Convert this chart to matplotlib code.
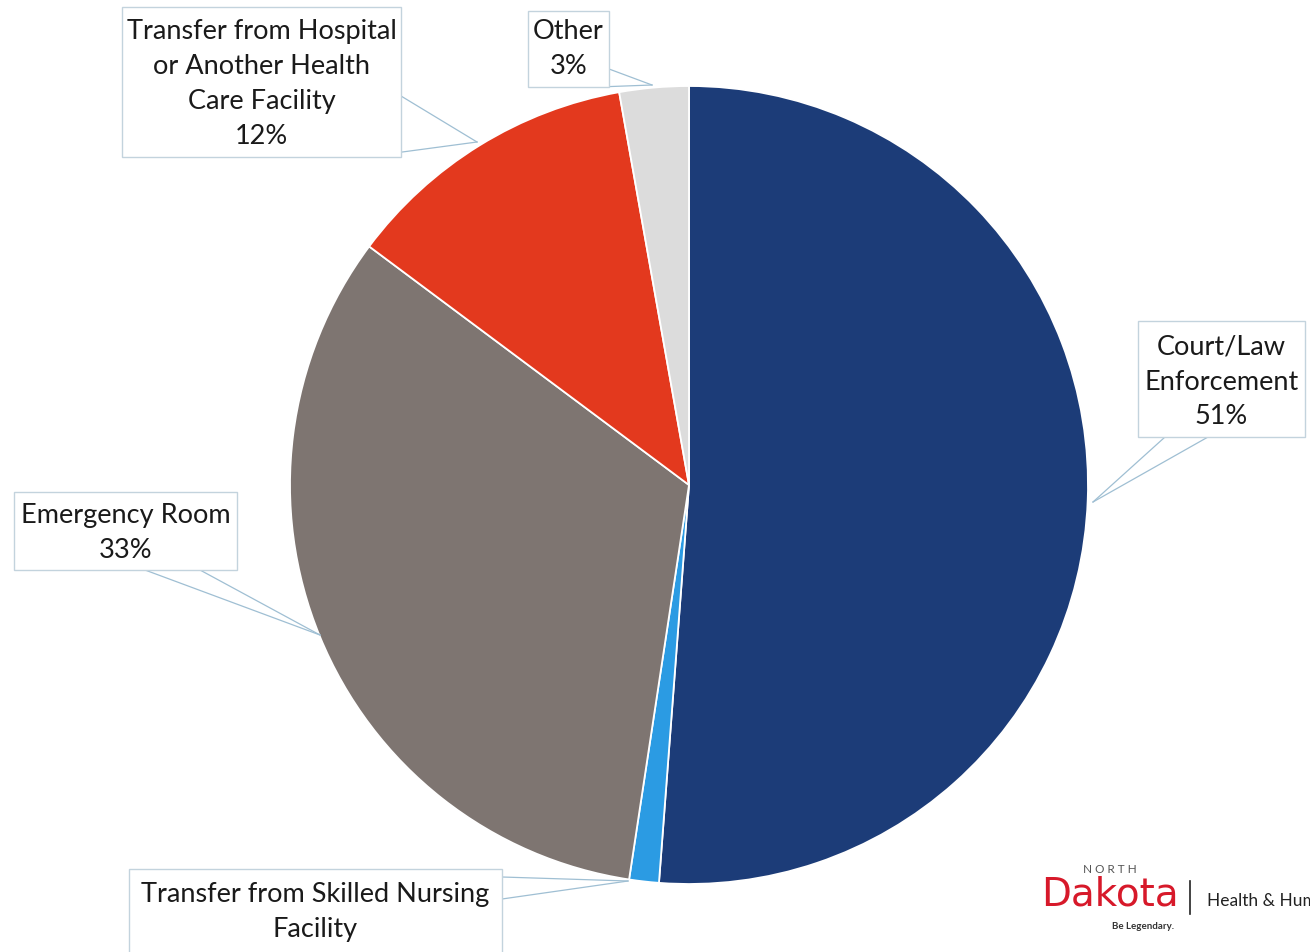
import matplotlib
matplotlib.use("Agg")
import matplotlib.pyplot as plt
from matplotlib.patches import Rectangle

plt.rcParams['font.family'] = ['Lato', 'DejaVu Sans']

# data (clockwise from 12 o'clock)
sources = ["Court/Law Enforcement", "Transfer from Skilled Nursing Facility",
           "Emergency Room", "Transfer from Hospital or Another Health Care Facility",
           "Other"]
shares = [51.2, 1.2, 32.8, 12.0, 2.8]
colors = ["#1c3c78", "#2b9be3", "#7e7571", "#e3391e", "#dcdcdc"]
label_texts = ["Court/Law\nEnforcement\n51%",
               "Transfer from Skilled Nursing\nFacility",
               "Emergency Room\n33%",
               "Transfer from Hospital\nor Another Health\nCare Facility\n12%",
               "Other\n3%"]

W, H = 1310, 953
fig = plt.figure(figsize=(W / 100, H / 100), dpi=100)
ax = fig.add_axes([0, 0, 1, 1])

def Y(y):
    # image pixel rows -> axis y (up)
    return H - y

cx, cy, R = 689, 486, 399
ax.pie(shares, colors=colors, startangle=90, counterclock=False,
       center=(cx, Y(cy)), radius=R, frame=True,
       wedgeprops=dict(edgecolor='white', linewidth=1.3))
ax.set_xlim(0, W)
ax.set_ylim(0, H)
ax.set_aspect('equal')
ax.axis('off')

# callout boxes: (x0, y0, x1, y1), leader base points, leader tip, text centre row
boxes = [
    ((1138, 322, 1305, 438), [(1165, 438), (1208, 438)], (1093, 503), 382),
    ((129, 870, 502, 960), [(502, 878), (502, 900)], (628, 882), 912),
    ((14, 493, 237, 571), [(145, 571), (200, 571)], (320, 636), 533),
    ((122, 8, 401, 158), [(401, 97), (365, 158)], (477, 143), 84),
    ((528, 12, 609, 88), [(609, 70), (598, 88)], (652, 86), 49),
]

edge = "#c3d3dd"
for (x0, y0, x1, y1), base, tip, ty in boxes:
    for bx, by in base:
        ax.plot([bx, tip[0]], [Y(by), Y(tip[1])], color="#9fbfd3", lw=0.9, zorder=3)

for ((x0, y0, x1, y1), base, tip, ty), txt in zip(boxes, label_texts):
    ax.add_patch(Rectangle((x0, Y(y1)), x1 - x0, y1 - y0, facecolor='white',
                           edgecolor=edge, lw=1.0, zorder=4))
    ax.text((x0 + x1) / 2, Y(ty), txt, ha='center', va='center',
            fontsize=19.5, color='#1a1a1a', linespacing=1.5, zorder=5)

# logo
ax.text(1110, Y(870), "N O R T H", ha='center', va='center', fontsize=8.5, color='#555555')
ax.text(1110, Y(895), "Dakota", ha='center', va='center', fontsize=28, color='#d7192a',
        family=['DejaVu Sans'])
ax.text(1143, Y(927), "Be Legendary.", ha='center', va='center', fontsize=7,
        fontweight='bold', color='#333333')
ax.plot([1190, 1190], [Y(882), Y(915)], color='#222222', lw=1.2)
ax.text(1207, Y(901), "Health & Human Services", ha='left', va='center',
        fontsize=12.5, color='#222222')

fig.savefig("out.png", dpi=100)
